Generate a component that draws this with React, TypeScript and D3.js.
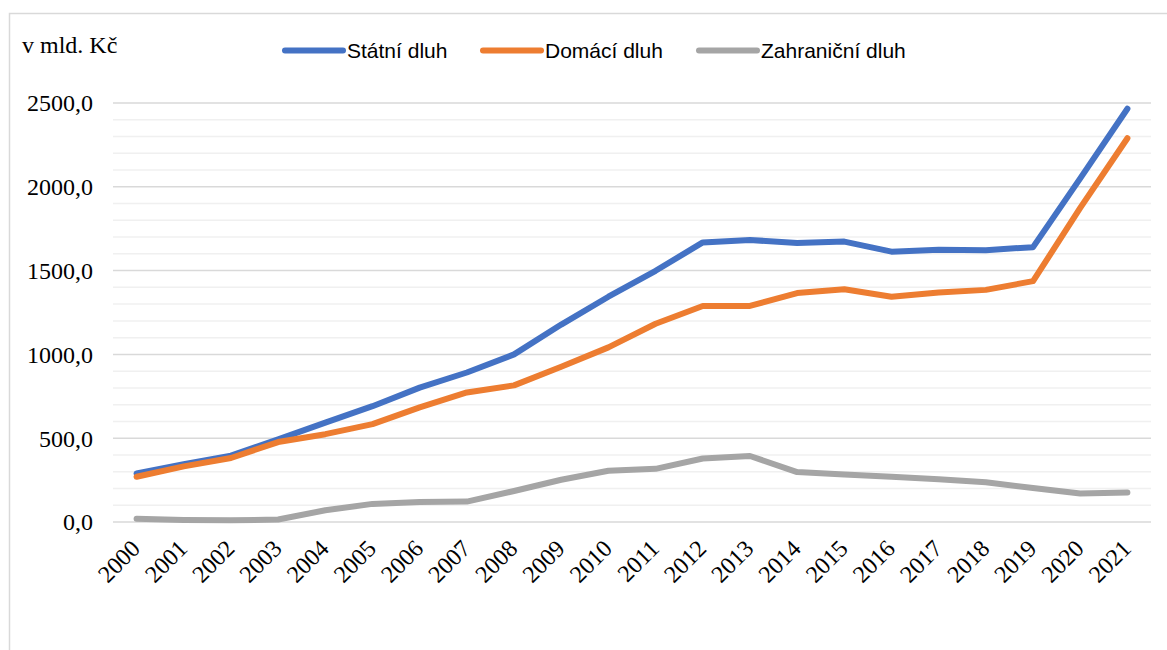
import React from 'react';
import * as d3 from 'd3';

// data (v mld. Kč)
const years = ['2000', '2001', '2002', '2003', '2004', '2005', '2006', '2007', '2008', '2009', '2010',
    '2011', '2012', '2013', '2014', '2015', '2016', '2017', '2018', '2019', '2020', '2021'];
const statniDluh = [289, 345, 396, 493, 593, 691, 802, 892, 1000, 1178, 1344,
    1499, 1668, 1683, 1664, 1673, 1613, 1625, 1622, 1640, 2050, 2466];
const domaciDluh = [270, 332, 382, 477, 524, 584, 684, 773, 815, 926, 1042,
    1183, 1289, 1289, 1366, 1389, 1344, 1370, 1385, 1437, 1874, 2290];
const zahranicniDluh = [20, 12, 10, 15, 70, 108, 120, 122, 185, 252, 306,
    317, 379, 394, 298, 284, 270, 255, 237, 203, 170, 176];
const yTicks = [0, 500, 1000, 1500, 2000, 2500];
const minorTicks = d3.range(0, 2501, 100);

const series = [
    { name: 'Státní dluh', values: statniDluh, color: '#4472C4' },
    { name: 'Domácí dluh', values: domaciDluh, color: '#ED7D31' },
    { name: 'Zahraniční dluh', values: zahranicniDluh, color: '#A5A5A5' },
];

const width = 1167;
const height = 650;
const margin = { top: 103, right: 16, bottom: 128, left: 113 };

const App = () => {
    // scales
    const xScale = d3.scaleBand()
        .domain(years)
        .range([margin.left, width - margin.right]);

    const yScale = d3.scaleLinear()
        .domain([0, 2500])
        .range([height - margin.bottom, margin.top]);

    const line = d3.line<number>()
        .x((d, i) => xScale(years[i])! + xScale.bandwidth() / 2)
        .y((d) => yScale(d));

    const fmt = (v: number) => d3.format('.1f')(v).replace('.', ',');
    const serif = '"Liberation Serif", "Times New Roman", serif';
    const sans = '"Liberation Sans", Arial, sans-serif';

    // legend layout
    const legendX = [285, 483, 699];

    return (
        <svg width={width} height={height} style={{ position: 'absolute', left: 0, top: 0, background: '#fff' }}>
            <rect x={9.5} y={13.5} width={width} height={height} fill="none" stroke="#d9d9d9" strokeWidth={1.5} />

            {/* gridlines */}
            {minorTicks.filter((t) => t % 500 !== 0).map((t) => (
                <line key={'m' + t} x1={margin.left} x2={width - margin.right} y1={yScale(t)} y2={yScale(t)}
                    stroke="#f0f0f0" strokeWidth={1.5} />
            ))}
            {yTicks.map((t) => (
                <line key={'g' + t} x1={margin.left} x2={width - margin.right} y1={yScale(t)} y2={yScale(t)}
                    stroke="#d9d9d9" strokeWidth={1.5} />
            ))}

            {/* y axis labels */}
            {yTicks.map((t) => (
                <text key={'y' + t} x={93} y={yScale(t)} dy="0.35em" textAnchor="end"
                    fontFamily={serif} fontSize={24} fill="#000">{fmt(t)}</text>
            ))}

            {/* x axis labels */}
            {years.map((yr) => {
                const cx = xScale(yr)! + xScale.bandwidth() / 2;
                return (
                    <text key={yr} transform={`translate(${cx + 5}, ${550}) rotate(-45)`} textAnchor="end"
                        fontFamily={serif} fontSize={24} fill="#000">{yr}</text>
                );
            })}

            {/* lines */}
            {series.map((s) => (
                <path key={s.name} d={line(s.values)!} fill="none" stroke={s.color} strokeWidth={6}
                    strokeLinecap="round" strokeLinejoin="round" />
            ))}

            {/* unit label */}
            <text x={22} y={53} fontFamily={serif} fontSize={24} fill="#000">v mld. Kč</text>

            {/* legend */}
            {series.map((s, i) => (
                <g key={'l' + s.name}>
                    <line x1={legendX[i]} x2={legendX[i] + 58} y1={50.5} y2={50.5} stroke={s.color}
                        strokeWidth={6} strokeLinecap="round" />
                    <text x={legendX[i] + 62} y={58} fontFamily={sans} fontSize={21} fill="#000">{s.name}</text>
                </g>
            ))}
        </svg>
    );
};

export default App;
